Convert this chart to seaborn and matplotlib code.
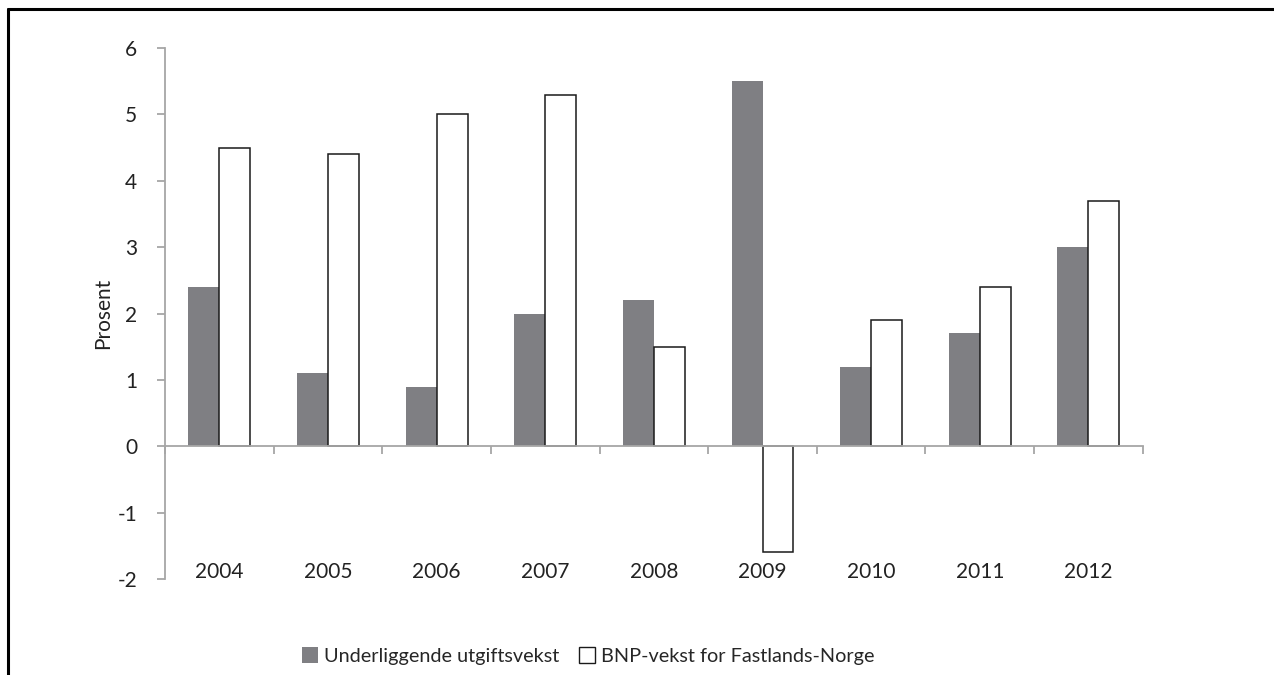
import pandas as pd
import matplotlib.pyplot as plt
import seaborn as sns
from matplotlib.lines import Line2D
from matplotlib.patches import Patch

years = ["2004", "2005", "2006", "2007", "2008", "2009", "2010", "2011", "2012"]
utgiftsvekst = [2.4, 1.1, 0.9, 2.0, 2.2, 5.5, 1.2, 1.7, 3.0]
bnp_vekst = [4.5, 4.4, 5.0, 5.3, 1.5, -1.6, 1.9, 2.4, 3.7]
series_names = ["Underliggende utgiftsvekst", "BNP-vekst for Fastlands-Norge"]
y_ticks = [-2, -1, 0, 1, 2, 3, 4, 5, 6]

grey = "#7f7f83"
axis_grey = "#a6a6a6"

df = pd.DataFrame({
    "year": years * 2,
    "value": utgiftsvekst + bnp_vekst,
    "serie": [series_names[0]] * len(years) + [series_names[1]] * len(years),
})

sns.set_style("white")
plt.rcParams["font.family"] = ["Lato", "DejaVu Sans"]

fig = plt.figure(figsize=(12.74, 6.75), dpi=100)
ax = fig.add_axes([0.1295, 0.1422, 0.7675, 0.7866])

sns.barplot(data=df, x="year", y="value", hue="serie", order=years,
            hue_order=series_names, palette=[grey, "white"], width=0.57,
            saturation=1, legend=False, ax=ax)

for bar in ax.containers[0]:
    bar.set_edgecolor("none")
for bar in ax.containers[1]:
    bar.set_edgecolor("#1a1a1a")
    bar.set_linewidth(1.1)

ax.set_ylim(-2, 6)
ax.set_xlim(-0.5, len(years) - 0.5)
ax.set_yticks(y_ticks)
ax.set_yticklabels([str(t) for t in y_ticks], fontsize=15, color="#222222")

# category boundaries as ticks on the zero line
ax.set_xticks([i - 0.5 for i in range(len(years) + 1)])
ax.set_xticklabels([])
ax.set_xlabel("")
ax.set_ylabel("Prosent", fontsize=15, color="#222222")

ax.spines["bottom"].set_position(("data", 0))
ax.spines["top"].set_visible(False)
ax.spines["right"].set_visible(False)
for s in ["bottom", "left"]:
    ax.spines[s].set_color(axis_grey)
    ax.spines[s].set_linewidth(1.3)
ax.tick_params(axis="both", bottom=True, left=True, direction="out",
               length=6, width=1.3, color=axis_grey)
ax.tick_params(axis="y", pad=14)
ax.yaxis.set_label_coords(-0.053, 0.5)

# year labels sit at the bottom of the plot
for i, y in enumerate(years):
    ax.text(i, -1.9, y, ha="center", va="center", fontsize=15, color="#222222")

handles = [Patch(facecolor=grey, edgecolor="none"),
           Patch(facecolor="white", edgecolor="#1a1a1a", linewidth=1.0)]
fig.legend(handles, series_names, loc="center", bbox_to_anchor=(0.462, 0.028),
           ncol=2, frameon=False, fontsize=14.3, handlelength=0.8, handleheight=0.8,
           handletextpad=0.3, columnspacing=1.0)

# frame lines of the original picture (left and top)
fig.add_artist(Line2D([8 / 1274, 8 / 1274], [0, 1 - 9 / 675], color="black", lw=2.2,
                      transform=fig.transFigure))
fig.add_artist(Line2D([8 / 1274, 1], [1 - 9 / 675, 1 - 9 / 675], color="black", lw=2.2,
                      transform=fig.transFigure))

fig.savefig("out.png", dpi=100)
